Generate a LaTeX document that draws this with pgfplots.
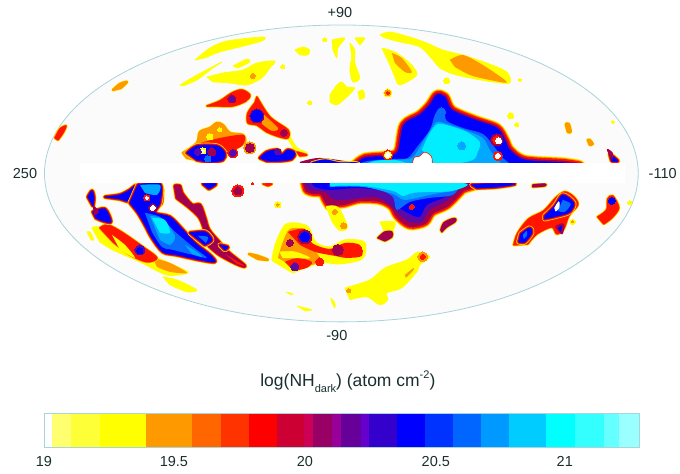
\documentclass[border=0pt]{standalone}
\usepackage{pgfplots}
\pgfplotsset{compat=1.18}
\usepackage{fontspec}
\setmainfont{Liberation Sans}
\definecolor{cY}{HTML}{FFFF00}
\definecolor{cO}{HTML}{FF9900}
\definecolor{cR}{HTML}{FF1500}
\definecolor{cC}{HTML}{A00050}
\definecolor{cP}{HTML}{5A0AA8}
\definecolor{cB}{HTML}{0000FF}
\definecolor{cM}{HTML}{0A6BFF}
\definecolor{cL}{HTML}{00A8FF}
\definecolor{cA}{HTML}{00EEFF}
\definecolor{txt}{HTML}{1A2E2E}
\definecolor{rimc}{HTML}{A8D4DA}
\definecolor{s1}{HTML}{FFFFFF}\definecolor{s2}{HTML}{FFFF70}\definecolor{s3}{HTML}{FFFF38}\definecolor{s4}{HTML}{FFFF00}
\definecolor{s5}{HTML}{FF9900}\definecolor{s6}{HTML}{FF6600}\definecolor{s7}{HTML}{FF3300}\definecolor{s8}{HTML}{FF0000}
\definecolor{s9}{HTML}{CC0033}\definecolor{s10}{HTML}{CC0055}\definecolor{s11}{HTML}{990066}\definecolor{s12}{HTML}{990099}
\definecolor{s13}{HTML}{660099}\definecolor{s14}{HTML}{6600CC}\definecolor{s15}{HTML}{3300CC}\definecolor{s16}{HTML}{0000FF}
\definecolor{s17}{HTML}{0033FF}\definecolor{s18}{HTML}{0066FF}\definecolor{s19}{HTML}{0099FF}\definecolor{s20}{HTML}{00CCFF}
\definecolor{s21}{HTML}{00FFFF}\definecolor{s22}{HTML}{33FFFF}\definecolor{s23}{HTML}{66FFFF}\definecolor{s24}{HTML}{99FFFF}
\newcommand\layer[3]{\addplot[draw=#1,fill=#1,line width=#2pt,line join=round,smooth,tension=0.5] coordinates {#3} --cycle;}
\newcommand\plain[2]{\addplot[draw=none,fill=#1,smooth,tension=0.5] coordinates {#2} --cycle;}
\newcommand\B[2]{\layer{cY}{5}{#2}\layer{cO}{4.2}{#2}\layer{cR}{3.4}{#2}\layer{cC}{1.8}{#2}\layer{#1}{0.5}{#2}}
\newcommand\Bbig[2]{\layer{cY}{11}{#2}\layer{cO}{9.5}{#2}\layer{cR}{7.5}{#2}\layer{cC}{4}{#2}\layer{#1}{0.5}{#2}}
\newcommand\Rb[2]{\layer{cY}{3.2}{#2}\layer{cO}{2.4}{#2}\layer{#1}{1.2}{#2}}
\newcommand\Y[1]{\layer{cY}{0.6}{#1}}
\newcommand\dotm[4]{\addplot[#4,only marks,mark=*,mark options={solid,draw=#4,fill=#4,line width=0pt},mark size=#3pt] coordinates {(#1,#2)};}
\newcommand\seg[3]{\addplot[draw=none,fill=#3] coordinates {(#1,413)(#2,413)(#2,447)(#1,447)} --cycle;}
\newcommand\tl{\fontsize{14.5}{17}\selectfont}
\begin{document}
\begin{tikzpicture}
\begin{axis}[
  scale only axis,width=680pt,height=474pt,
  xmin=0,xmax=680,ymin=0,ymax=474,y dir=reverse,
  hide axis,clip=false,
]
\path (axis cs:0,0) rectangle (axis cs:680,474);
% sky
\fill[fill=black!1.5,draw=rimc,line width=0.8pt] (axis cs:341.5,173.5) ellipse [x radius=297,y radius=148.5];
% northern yellow
\Y{(195,60)(210,48)(227,41)(263,37)(262,41)(240,47)(220,52)(205,58)}
\Y{(180,85)(197,75)(222,62)(213,68)(197,80)(183,86)}
\Y{(233,66)(247,59)(250,62)(238,68)}
\Y{(207,77)(223,73)(243,70)(257,63)(275,61)(270,68)(262,78)(247,85)(230,83)(213,82)}
\dotm{253}{76}{2.5}{cO}
\Y{(295,50)(303,47)(310,50)(308,55)(300,55)}
\Y{(332,40)(345,38)(338,48)(337,58)(333,50)}
\Y{(355,38)(365,38)(360,45)}
\Y{(350,43)(355,50)(355,63)(360,78)(353,82)(350,70)(352,57)}
\Y{(330,95)(337,85)(342,82)(347,87)(355,88)(347,97)(337,105)(330,102)}
\Y{(358,92)(363,90)(365,97)(360,100)}
\dotm{310}{103}{2}{cY}\dotm{283}{67}{2}{cY}\dotm{325}{40}{2}{cY}
\Y{(380,35)(390,32)(410,37)(427,43)(443,50)(463,55)(487,63)(507,72)(510,83)(493,82)(470,78)(453,74)(440,68)(433,60)(420,47)(400,42)(385,38)}
\plain{cO}{(450,60)(463,55)(483,65)(507,82)(490,80)(470,75)(455,67)}
\Y{(382,48)(395,52)(410,63)(417,75)(400,85)(395,77)(390,65)}
\plain{cO}{(392,53)(402,58)(412,72)(405,72)(395,63)}
\dotm{447}{81}{3}{cY}\dotm{511}{116}{3}{cY}\dotm{517}{125}{2}{cY}\dotm{520}{80}{1.5}{cY}\dotm{613}{122}{1.5}{cY}
\dotm{388}{93}{4}{cY}\dotm{388}{93}{3}{cO}\dotm{388}{93}{1.5}{cR}
% edge spots
\Rb{cO}{(113,90)(120,84)(127,82)(121,88)}
\Rb{cR}{(55,138)(60,129)(66,126)(63,133)(58,140)}
\Rb{cO}{(566,124)(569,124)(571,132)(568,132)}
\Rb{cO}{(588,140)(590,140)(593,144)(590,145)}
% NW group
\layer{cY}{1.5}{(290,137)(297,148)(307,153)(297,152)(289,140)}
\Rb{cR}{(207,106)(220,101)(232,93)(242,90)(250,95)(246,101)(233,106)(217,106)}
\dotm{232}{99}{4}{cC}\dotm{232}{99}{2.5}{cP}
\Rb{cR}{(257,97)(270,117)(288,130)(288,138)(280,137)(267,132)(257,125)(248,123)(248,113)(255,103)}
\plain{cO}{(262,113)(278,128)(272,131)(262,124)}
\dotm{257}{116}{7}{cC}\dotm{257}{116}{6}{cB}
\dotm{284}{133}{3.5}{cC}
\Rb{cO}{(183,153)(197,143)(200,132)(210,128)(217,123)(223,125)(230,133)(243,135)(245,142)(237,148)(227,150)(225,158)(210,163)(197,160)(187,158)}
\dotm{210}{137}{3}{cY}\dotm{220}{130}{2}{cY}
\plain{cR}{(197,144)(220,138)(244,135)(242,146)(225,152)(197,150)}
\B{cB}{(187,153)(197,146)(217,146)(225,153)(223,160)(210,162)(197,160)}
\dotm{203}{151}{3}{cY}\dotm{203}{151}{1.5}{white}
\dotm{212}{152}{4}{cC}\dotm{198}{152}{3.5}{cP}\dotm{208}{159}{3}{cM}
\dotm{233}{153}{5}{cR}\dotm{233}{153}{3.5}{cP}
\dotm{250}{148}{6}{cO}\dotm{250}{148}{4.5}{cC}
\B{cB}{(260,158)(267,152)(278,150)(282,155)(288,150)(295,153)(292,159)(280,161)(267,161)}
\dotm{278}{152}{3}{cP}
\Rb{cR}{(297,152)(307,155)(300,156)}
% main north
\Bbig{cB}{(355,165)(365,158)(385,156)(398,152)(404,125)(420,115)(430,105)(437,95)(445,97)(452,110)(475,120)(497,128)(505,140)(510,150)(525,160)(566,163)(566,167)(355,167)}
\plain{cC}{(300,162)(320,158)(355,163)(355,167)(300,167)}
\Rb{cB}{(312,163)(325,160)(340,163)(357,163)(357,167)(312,167)}
\plain{cM}{(357,165)(368,161)(395,159)(408,158)(418,146)(430,130)(435,115)(440,108)(445,112)(447,121)(463,128)(483,134)(493,145)(503,158)(512,165)}
\plain{cL}{(362,165)(374,161)(395,160)(412,158)(420,147)(430,131)(437,122)(447,124)(465,130)(483,138)(490,150)(498,160)(503,165)}
\plain{cA}{(422,150)(430,133)(438,124)(450,126)(467,132)(480,142)(478,152)(473,160)(450,165)(433,165)(430,157)}
\plain{cA}{(365,165)(375,161)(395,160)(412,165)}
\dotm{442}{112}{4}{cM}
\dotm{462}{146}{4}{cL}
% notches in main north
\layer{cR}{2}{(413,165)(415,158)(420,157)(425,153)(431,157)(432,165)}
\layer{white}{0.5}{(413,165)(415,158)(420,157)(425,153)(431,157)(432,165)}
\dotm{388}{155}{5}{cR}\dotm{388}{155}{3.5}{cY}\dotm{388}{155}{2.5}{white}
\dotm{497}{140}{6}{cC}\dotm{497}{140}{4}{cR}\dotm{499}{141}{3}{white}
\dotm{498}{156}{4.5}{cR}\dotm{498}{156}{2.5}{white}
% main south
\Bbig{cC}{(305,183)(468,183)(462,190)(447,205)(432,212)(425,222)(410,225)(398,216)(392,206)(380,200)(360,199)(345,203)(335,204)(330,206)(326,200)(322,193)(312,192)(307,190)}
\plain{cP}{(305,183)(310,190)(325,192)(333,199)(345,200)(375,197)(390,205)(400,215)(410,222)(422,222)(430,210)(448,200)(465,183)}
\plain{cB}{(312,183)(315,187)(330,190)(360,188)(390,193)(396,205)(408,213)(420,217)(427,205)(445,197)(460,183)}
\plain{cM}{(353,183)(380,190)(393,197)(397,210)(410,202)(430,198)(453,195)(462,183)}
\plain{cL}{(330,183)(461,183)(455,190)(430,195)(405,200)(393,194)(363,187)(330,187)}
\plain{cA}{(330,183)(461,183)(453,191)(430,192)(413,193)(403,196)(393,191)(363,186)(330,186)}
\dotm{412}{207}{2.5}{cR}
\layer{cY}{2}{(327,207)(338,208)(347,227)(340,230)(333,222)}
\dotm{344}{226}{3}{cO}\dotm{335}{212}{2.5}{cO}
\Y{(380,222)(395,222)(392,233)(385,233)}
\Rb{cC}{(378,238)(385,232)(392,232)(392,237)(385,241)}
\B{cB}{(472,185)(487,184)(515,184)(497,187)(477,188)}
\Rb{cC}{(533,185)(545,184)(545,186)(533,187)}
\Rb{cC}{(441,230)(444,223)(452,219)(456,219)(455,222)(447,227)(442,232)}
% central south group
\layer{cY}{3}{(273,260)(277,243)(287,225)(307,227)(315,243)(330,248)(345,241)(364,243)(362,258)(340,263)(320,262)(293,272)}
\plain{cO}{(278,258)(283,242)(290,229)(305,230)(312,245)(320,262)(295,268)}
\plain{cR}{(288,232)(305,229)(312,243)(330,249)(345,243)(360,245)(362,256)(347,258)(335,256)(315,252)(300,245)}
\plain{cR}{(285,262)(298,258)(312,262)(307,268)(294,271)}
\dotm{305}{237}{7}{cC}\dotm{305}{237}{5}{cB}
\dotm{295}{267}{4}{cP}\dotm{290}{243}{3.5}{cC}
\dotm{338}{250}{5.5}{cC}\dotm{358}{251}{4.5}{cR}
\Y{(280,252)(295,252)(310,258)(298,258)(283,258)}
\dotm{337}{261}{3}{cY}
\dotm{320}{262}{4}{cR}
\Rb{cO}{(249,254)(258,256)(268,260)(258,259)}
\dotm{278}{205}{3}{cY}\dotm{278}{205}{1.2}{cO}
% thin south yellows
\Y{(286,292)(293,294)(291,295)}
\Y{(297,306)(312,310)(305,311)}
\Y{(331,298)(335,303)(335,308)(332,303)}
% big southern yellow
\Y{(345,288)(370,280)(385,268)(407,260)(418,252)(430,257)(420,265)(417,272)(402,288)(387,293)(388,300)(380,305)(367,297)(350,300)}
\dotm{423}{257}{5}{cO}\dotm{423}{257}{2.5}{cR}
\plain{cO}{(405,275)(414,268)(413,271)(406,278)}
\dotm{349}{291}{2}{cO}
% right south blob
\Rb{cR}{(514,245)(518,233)(529,219)(544,211)(556,198)(565,192)(574,197)(578,205)(569,216)(564,229)(557,234)(552,227)(537,234)(528,244)}
\B{cB}{(545,216)(555,206)(563,195)(574,203)(570,212)(558,216)(545,219)}
\B{cB}{(521,234)(530,228)(532,233)(525,242)(519,242)}
\layer{cC}{3}{(557,227)(563,225)(562,233)}\plain{cB}{(558,228)(562,226)(561,232)}
\plain{cM}{(563,200)(571,204)(565,212)(558,211)}
\plain{cM}{(523,235)(527,231)(527,236)(524,239)}
\layer{white}{1}{(555,208)(559,202)(559,208)(556,211)}
\Rb{cR}{(598,217)(607,210)(608,199)(613,196)(619,208)(612,218)(604,224)}
\dotm{612}{201}{3.5}{cB}
\dotm{630}{203}{2}{cY}\dotm{573}{222}{2.5}{cY}\dotm{573}{222}{1}{cO}
\B{cB}{(610,154)(618,161)(612,161)}
\layer{cC}{2}{(608,150)(612,153)(612,158)}
% SW group
\layer{cY}{1}{(92,228)(100,228)(123,248)(157,258)(180,268)(188,273)(167,275)(140,262)(113,250)(100,242)}
\plain{cO}{(153,258)(170,263)(187,273)(170,272)(157,267)}
\Y{(163,277)(177,280)(197,290)(187,292)(170,285)}
\Y{(87,232)(90,232)(94,240)(91,240)}
\Rb{cR}{(100,228)(108,225)(123,233)(143,247)(157,258)(147,262)(130,255)(113,242)}
\dotm{140}{250}{5}{cP}\dotm{140}{251}{3}{cB}
\plain{cY}{(112,235)(125,245)(135,258)(120,250)}
\B{cC}{(175,186)(180,186)(182,193)(192,205)(200,205)(205,218)(209,230)(220,243)(228,252)(245,266)(237,264)(220,255)(209,246)(203,240)(205,232)(200,218)(190,208)(177,198)}
\plain{cR}{(225,254)(245,266)(237,264)}
\B{cB}{(88,197)(92,191)(94,198)(93,206)}
\B{cB}{(93,212)(105,209)(111,222)(103,221)(96,218)}
\layer{cC}{2}{(94,207)(98,212)(95,214)}
\B{cB}{(105,197)(120,195)(130,190)(138,185)(160,185)(162,197)(160,205)(148,205)(130,202)(120,199)}
\B{cB}{(138,185)(160,184)(160,203)(155,213)(170,217)(183,230)(195,243)(210,255)(215,262)(200,260)(177,255)(163,252)(152,238)(145,225)(138,213)(130,203)}
\B{cB}{(190,233)(205,232)(212,240)(205,245)}
\B{cB}{(220,245)(228,247)(225,250)}
\plain{cM}{(198,236)(208,237)(206,243)}
\plain{cM}{(145,213)(160,217)(173,230)(193,247)(207,258)(193,255)(173,250)(162,247)(152,232)}
\plain{cL}{(140,185)(160,185)(157,195)(145,193)}
\plain{cL}{(150,216)(163,219)(175,236)(170,245)(160,240)}
\plain{cA}{(152,218)(165,220)(170,233)(160,233)}
\plain{cL}{(185,245)(197,252)(202,257)(192,254)}
\dotm{153}{208}{4}{cC}\dotm{153}{208}{2.5}{white}
\dotm{147}{198}{3}{cR}\dotm{147}{198}{1.5}{white}
% small southern bits
\B{cB}{(203,184)(216,184)(209,189)}
\dotm{238}{191}{6}{cR}\dotm{238}{191}{4}{cC}
\dotm{253}{184}{1}{cR}
\Rb{cR}{(263,184)(272,184)(268,186)}
% the empty band
\addplot[draw=none,fill=white] coordinates {(80,163)(625,163)(625,183)(80,183)} --cycle;
% colour bar
\seg{44}{52}{s1}\seg{52}{71}{s2}\seg{71}{100}{s3}\seg{100}{146}{s4}
\seg{146}{192}{s5}\seg{192}{221}{s6}\seg{221}{249}{s7}\seg{249}{277}{s8}
\seg{277}{304}{s9}\seg{304}{313}{s10}\seg{313}{332}{s11}\seg{332}{341}{s12}
\seg{341}{361}{s13}\seg{361}{369}{s14}\seg{369}{397}{s15}\seg{397}{425}{s16}
\seg{425}{453}{s17}\seg{453}{481}{s18}\seg{481}{509}{s19}\seg{509}{546}{s20}
\seg{546}{575}{s21}\seg{575}{604}{s22}\seg{604}{619}{s23}\seg{619}{640}{s24}
\addplot[draw=rimc,line width=0.6pt] coordinates {(44,413)(640,413)(640,447)(44,447)} --cycle;
% text
\node[txt,font=\tl] at (axis cs:340,13) {+90};
\node[txt,font=\tl] at (axis cs:337,336) {-90};
\node[txt,font=\tl] at (axis cs:25,174) {250};
\node[txt,font=\tl] at (axis cs:663,174) {-110};
\node[txt,font=\fontsize{17.5}{20}\selectfont] at (axis cs:348,382) {log(NH\raisebox{-0.35em}{\fontsize{11}{12}\selectfont dark}) (atom cm\raisebox{0.45em}{\fontsize{11}{12}\selectfont -2})};
\node[txt,font=\tl] at (axis cs:44,462) {19};
\node[txt,font=\tl] at (axis cs:174,462) {19.5};
\node[txt,font=\tl] at (axis cs:305,462) {20};
\node[txt,font=\tl] at (axis cs:436,462) {20.5};
\node[txt,font=\tl] at (axis cs:565,462) {21};
\end{axis}
\end{tikzpicture}
\end{document}
